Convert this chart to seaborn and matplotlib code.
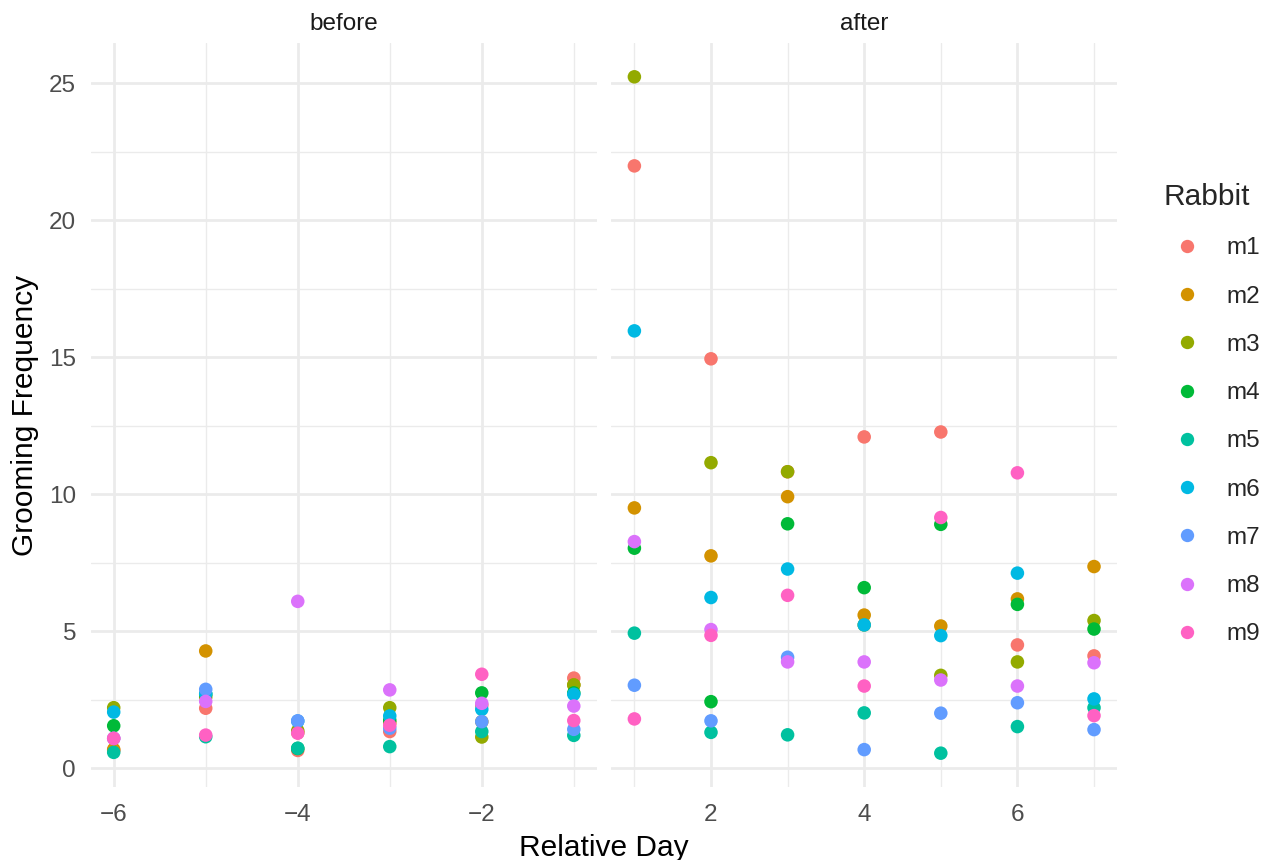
import matplotlib
matplotlib.use("Agg")
import matplotlib.pyplot as plt
from matplotlib.ticker import MultipleLocator
from matplotlib.lines import Line2D
import seaborn as sns
import pandas as pd

# ---- data ----
rabbits = ["m1", "m2", "m3", "m4", "m5", "m6", "m7", "m8", "m9"]
days = [-6, -5, -4, -3, -2, -1, 1, 2, 3, 4, 5, 6, 7]
m1 = [0.65, 2.19, 0.65, 1.34, 2.30, 3.29, 21.98, 14.94, 10.82, 12.09, 12.27, 4.50, 4.10]
m2 = [0.69, 4.28, 1.30, 1.66, 1.70, 3.04, 9.50, 7.75, 9.91, 5.59, 5.19, 6.18, 7.36]
m3 = [2.21, 2.60, 1.37, 2.21, 1.14, 3.04, 25.23, 11.15, 10.82, 5.23, 3.39, 3.88, 5.39]
m4 = [1.55, 2.70, 0.72, 1.75, 2.75, 2.75, 8.03, 2.43, 8.92, 6.59, 8.90, 5.98, 5.08]
m5 = [0.58, 1.15, 0.73, 0.79, 1.34, 1.20, 4.93, 1.31, 1.22, 2.02, 0.55, 1.52, 2.21]
m6 = [2.05, 2.72, 1.72, 1.91, 2.15, 2.70, 15.96, 6.23, 7.27, 5.23, 4.84, 7.12, 2.53]
m7 = [1.09, 2.88, 1.73, 1.46, 1.70, 1.42, 3.03, 1.73, 4.05, 0.68, 2.01, 2.39, 1.41]
m8 = [1.09, 2.44, 6.09, 2.86, 2.37, 2.27, 8.27, 5.06, 3.88, 3.88, 3.22, 3.00, 3.85]
m9 = [1.09, 1.21, 1.28, 1.57, 3.43, 1.74, 1.80, 4.85, 6.31, 3.00, 9.15, 10.78, 1.92]
colors = ["#F8766D", "#D39200", "#93AA00", "#00BA38", "#00C19F",
          "#00B9E3", "#619CFF", "#DB72FB", "#FF61C3"]

series = dict(zip(rabbits, [m1, m2, m3, m4, m5, m6, m7, m8, m9]))
rows = []
for r in rabbits:
    for d, v in zip(days, series[r]):
        rows.append({"Rabbit": r, "day": d, "freq": v,
                     "phase": "before" if d < 0 else "after"})
df = pd.DataFrame(rows)

sns.set_theme(style="white")
plt.rcParams["font.family"] = ["Liberation Sans", "DejaVu Sans"]

W, H = 1271, 860
fig = plt.figure(figsize=(W / 100, H / 100), dpi=100)
fig.patch.set_facecolor("white")

top, bottom = 43, 787
panels = [("before", 90.7, 596.8), ("after", 611.4, 1117.0)]

ymin, ymax = df["freq"].min(), df["freq"].max()
yexp = (ymax - ymin) * 0.05
palette = dict(zip(rabbits, colors))

for i, (phase, x0, x1) in enumerate(panels):
    ax = fig.add_axes([x0 / W, 1 - bottom / H, (x1 - x0) / W, (bottom - top) / H])
    sub = df[df["phase"] == phase]
    sns.scatterplot(data=sub, x="day", y="freq", hue="Rabbit", hue_order=rabbits,
                    palette=palette, s=95, linewidth=0, legend=False, ax=ax, zorder=3)
    dmin, dmax = sub["day"].min(), sub["day"].max()
    xexp = (dmax - dmin) * 0.05
    ax.set_xlim(dmin - xexp, dmax + xexp)
    ax.set_ylim(ymin - yexp, ymax + yexp)
    ax.xaxis.set_major_locator(MultipleLocator(2))
    ax.xaxis.set_minor_locator(MultipleLocator(1))
    ax.yaxis.set_major_locator(MultipleLocator(5))
    ax.yaxis.set_minor_locator(MultipleLocator(2.5))
    ax.grid(which="major", color="#EBEBEB", linewidth=2.0)
    ax.grid(which="minor", color="#EBEBEB", linewidth=1.0)
    ax.set_axisbelow(True)
    for s in ax.spines.values():
        s.set_visible(False)
    ax.tick_params(which="both", length=0, labelsize=17.5, labelcolor="#4D4D4D")
    ax.tick_params(axis="x", pad=12)
    ax.tick_params(axis="y", pad=10.5)
    ax.set_xlabel("")
    ax.set_ylabel("")
    if i == 1:
        ax.tick_params(axis="y", labelleft=False)
    fig.text((x0 + x1) / 2 / W, 1 - 29.5 / H, phase, ha="center", va="baseline",
             fontsize=17.5, color="#1A1A1A")

fig.text((90.7 + 1117) / 2 / W, 1 - 856 / H, "Relative Day", ha="center",
         va="baseline", fontsize=21.5, color="black")
fig.text(25 / W, 1 - (top + bottom) / 2 / H, "Grooming Frequency", ha="center",
         va="center", rotation=90, fontsize=21.5, color="black")

handles = [Line2D([], [], marker="o", linestyle="", markersize=9.6,
                  markerfacecolor=c, markeredgewidth=0) for c in colors]
leg = fig.legend(handles, rabbits, title="Rabbit", loc="upper left",
                 bbox_to_anchor=(1163 / W, 1 - 183 / H), frameon=False,
                 fontsize=17.5, title_fontsize=21.5, handlelength=1.98,
                 handletextpad=0.62, labelspacing=1.08, borderpad=0,
                 borderaxespad=0, alignment="left")

fig.savefig("out.png", dpi=100, facecolor="white")
